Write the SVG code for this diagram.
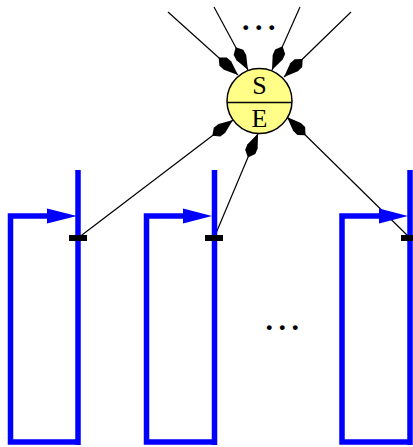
<svg xmlns="http://www.w3.org/2000/svg" xmlns:xlink="http://www.w3.org/1999/xlink" width="413" height="447" viewBox="0 0 413 447">
  <style>
    .wire { stroke: #000; stroke-width: 1.2; fill: none; }
    .loop { stroke: #0000ff; stroke-width: 5.5; fill: none; stroke-linejoin: miter; }
    .head { fill: #0000ff; }
    .tick { fill: #000; }
    .lbl { font-family: "Liberation Serif", "Times New Roman", serif; font-size: 26px; fill: #000; text-anchor: middle; }
    .dots { font-family: "Liberation Serif", "Times New Roman", serif; font-size: 30px; font-weight: bold; fill: #000; letter-spacing: 5.5px; }
  </style>
  <defs>
    <!-- kite-shaped arrowhead, tip at origin pointing along +x -->
    <polygon id="kite" points="0,0 -14,-5.5 -20,-5.5 -26,0 -20,5.5 -14,5.5" fill="#000"/>
  </defs>

  <!-- connectors -->
  <g id="connectors">
    <line class="wire" x1="168" y1="12" x2="238" y2="75"/>
    <line class="wire" x1="214" y1="7" x2="248" y2="70"/>
    <line class="wire" x1="300" y1="7" x2="272" y2="70"/>
    <line class="wire" x1="351" y1="12" x2="284" y2="77"/>
    <line class="wire" x1="78" y1="238" x2="233" y2="120"/>
    <line class="wire" x1="214" y1="238" x2="258" y2="133.5"/>
    <line class="wire" x1="410" y1="238" x2="287" y2="117"/>
    <use xlink:href="#kite" transform="translate(238,75) rotate(42)"/>
    <use xlink:href="#kite" transform="translate(248,70) rotate(61.6)"/>
    <use xlink:href="#kite" transform="translate(272,70) rotate(114)"/>
    <use xlink:href="#kite" transform="translate(284,77) rotate(135.9)"/>
    <use xlink:href="#kite" transform="translate(233,120) rotate(-37.3)"/>
    <use xlink:href="#kite" transform="translate(258,133.5) rotate(-67.2)"/>
    <use xlink:href="#kite" transform="translate(287,117) rotate(-135.5)"/>
  </g>

  <!-- shared S/E node -->
  <g id="node-se">
    <circle cx="259.5" cy="101" r="32.5" fill="#ffff88" stroke="#000" stroke-width="1.5"/>
    <line x1="227" y1="102.5" x2="292" y2="102.5" stroke="#000" stroke-width="1.5"/>
    <text class="lbl" x="259.5" y="93.5">S</text>
    <text class="lbl" x="259.5" y="127">E</text>
  </g>

  <text class="dots" x="242" y="30">...</text>

  <!-- loop 1 -->
  <g id="loop-1">
    <line class="loop" x1="78" y1="170" x2="78" y2="445"/>
    <polyline class="loop" points="78,442 10.5,442 10.5,216 50,216"/>
    <polygon class="head" points="47,208.5 77,216 47,223.5"/>
    <rect class="tick" x="69" y="235" width="18" height="6"/>
  </g>

  <!-- loop 2 -->
  <g id="loop-2">
    <line class="loop" x1="214.5" y1="170" x2="214.5" y2="445"/>
    <polyline class="loop" points="214.5,442 146.5,442 146.5,216 186,216"/>
    <polygon class="head" points="183,208.5 212,216 183,223.5"/>
    <rect class="tick" x="205" y="235" width="18" height="6"/>
  </g>

  <!-- loop n -->
  <g id="loop-n">
    <line class="loop" x1="410" y1="170" x2="410" y2="445"/>
    <polyline class="loop" points="410,442 342,442 342,216 382,216"/>
    <polygon class="head" points="379,208.5 408,216 379,223.5"/>
    <rect class="tick" x="401" y="235" width="18" height="6"/>
  </g>

  <text class="dots" x="265.6" y="329.5">...</text>
</svg>
